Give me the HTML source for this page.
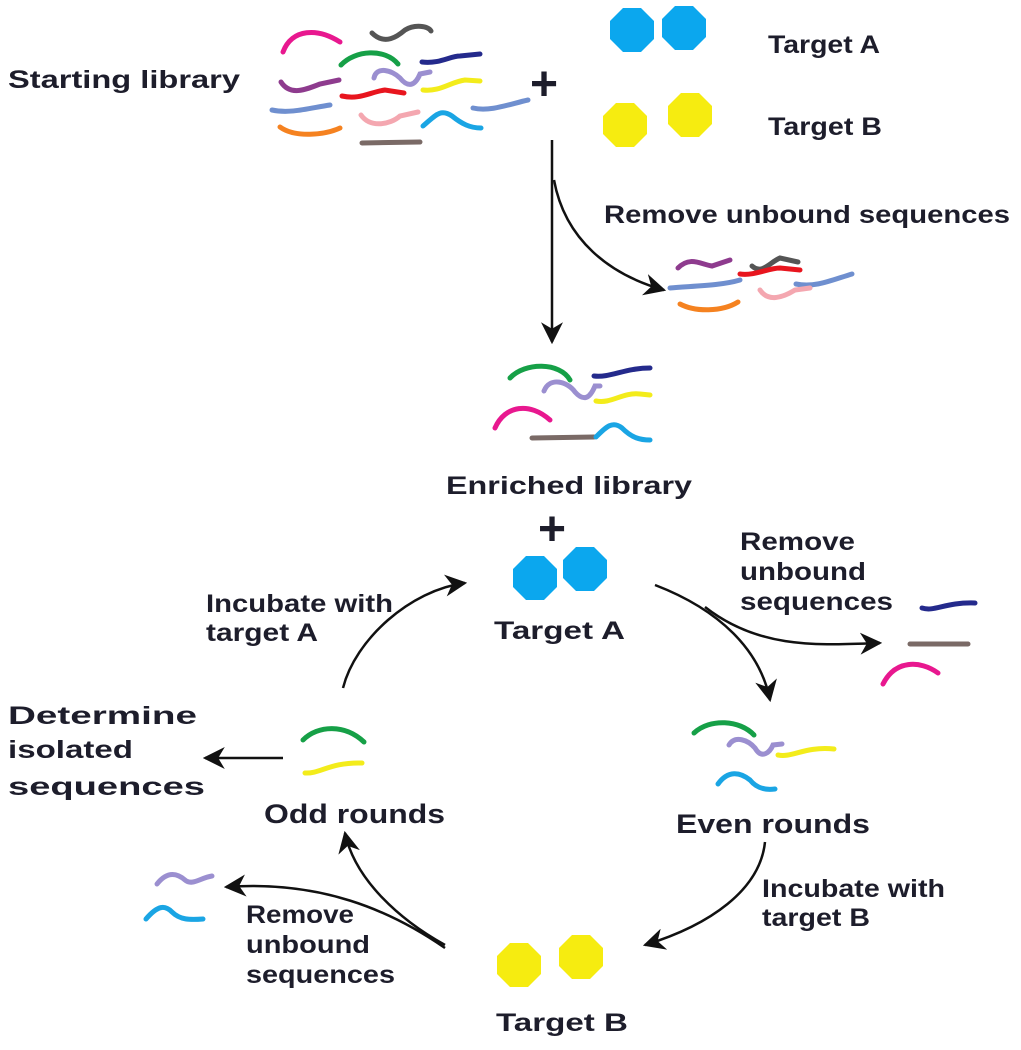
<!DOCTYPE html>
<html><head><meta charset="utf-8"><style>
html,body{margin:0;padding:0;background:#fff;}
svg{display:block}
text{font-family:"Liberation Sans",Arial,sans-serif;font-weight:bold;font-size:25px;fill:#1d1d2b}
.s{fill:none;stroke-width:5;stroke-linecap:round}
.a{fill:none;stroke:#111;stroke-width:2.5}
</style></head><body>
<svg width="1021" height="1050" viewBox="0 0 1021 1050" xmlns="http://www.w3.org/2000/svg">
<defs>
<marker id="ab" viewBox="0 0 10 10" refX="9" refY="5" markerWidth="22" markerHeight="22" orient="auto" markerUnits="userSpaceOnUse">
<path d="M0,0 L10,5 L0,10 L3,5z" fill="#111"/></marker>
<polygon id="oct" points="-9,-22 9,-22 22,-9 22,9 9,22 -9,22 -22,9 -22,-9"/>
</defs>

<text x="8" y="88" textLength="232" lengthAdjust="spacingAndGlyphs">Starting library</text>
<path class="s" stroke="#e8188f" d="M283,52 C292,28 318,28 340,42"/>
<path class="s" stroke="#555" d="M372,33 C385,46 398,36 405,30 C415,24 428,26 431,31"/>
<path class="s" stroke="#16a047" d="M341,65 C355,50 385,48 398,64"/>
<path class="s" stroke="#242a8c" d="M422,62 C440,64 450,56 460,56 L480,54"/>
<path class="s" stroke="#9b8fd0" d="M374,78 C376,66 392,70 400,78 C408,88 415,86 420,74 L430,72"/>
<path class="s" stroke="#8e3b8e" d="M281,82 C290,96 305,90 320,84 L339,80"/>
<path class="s" stroke="#f3ec1b" d="M423,90 C440,92 450,82 465,80 L480,81"/>
<path class="s" stroke="#e8151e" d="M342,96 C360,100 370,92 385,90 L404,93"/>
<path class="s" stroke="#6f8fcf" d="M272,110 C290,114 310,108 330,105"/>
<path class="s" stroke="#6f8fcf" d="M473,108 C490,112 510,104 528,100"/>
<path class="s" stroke="#f4a7b0" d="M361,115 C370,128 390,125 400,116 L418,112"/>
<path class="s" stroke="#1aa5e4" d="M423,126 C435,116 440,108 452,116 C462,124 470,128 481,128"/>
<path class="s" stroke="#f58220" d="M280,127 C295,138 325,135 340,128"/>
<path class="s" stroke="#7a6a66" d="M362,143 L420,142"/>

<text x="530" y="100" style="font-size:48px;font-weight:bold">+</text>

<use href="#oct" x="632" y="30" fill="#0ba7ee"/>
<use href="#oct" x="684" y="28" fill="#0ba7ee"/>
<use href="#oct" x="625" y="125" fill="#f6ec10"/>
<use href="#oct" x="690" y="115" fill="#f6ec10"/>
<text x="768" y="53" textLength="112" lengthAdjust="spacingAndGlyphs">Target A</text>
<text x="768" y="135" textLength="114" lengthAdjust="spacingAndGlyphs">Target B</text>

<line class="a" x1="552" y1="140" x2="552" y2="342" marker-end="url(#ab)"/>
<path class="a" d="M554,180 C565,240 610,275 664,290" marker-end="url(#ab)"/>
<text x="604" y="223" textLength="406" lengthAdjust="spacingAndGlyphs">Remove unbound sequences</text>
<path class="s" stroke="#8e3b8e" d="M678,268 C690,256 700,264 712,266 L730,260"/>
<path class="s" stroke="#555" d="M752,266 C762,275 770,262 780,258 L798,262"/>
<path class="s" stroke="#e8151e" d="M740,274 C755,276 768,268 780,268 L800,270"/>
<path class="s" stroke="#6f8fcf" d="M670,288 C690,286 720,286 740,280"/>
<path class="s" stroke="#6f8fcf" d="M796,284 C815,288 832,280 852,274"/>
<path class="s" stroke="#f4a7b0" d="M760,290 C768,302 782,298 795,290 L810,288"/>
<path class="s" stroke="#f58220" d="M680,304 C695,312 722,312 738,302"/>

<path class="s" stroke="#16a047" d="M510,378 C525,362 560,362 570,380"/>
<path class="s" stroke="#242a8c" d="M594,376 C610,378 625,368 650,368"/>
<path class="s" stroke="#9b8fd0" d="M544,391 C550,376 568,382 575,392 C584,402 590,398 595,386 L600,386"/>
<path class="s" stroke="#f3ec1b" d="M596,401 C612,404 622,392 640,394 L650,395"/>
<path class="s" stroke="#e8188f" d="M495,428 C505,405 530,402 550,420"/>
<path class="s" stroke="#7a6a66" d="M532,438 L594,437"/>
<path class="s" stroke="#1aa5e4" d="M596,437 C605,428 612,420 622,428 C632,438 640,440 650,440"/>
<text x="446" y="494" textLength="246" lengthAdjust="spacingAndGlyphs">Enriched library</text>
<text x="538" y="545" style="font-size:48px;font-weight:bold">+</text>

<use href="#oct" x="535" y="578" fill="#0ba7ee"/>
<use href="#oct" x="585" y="569" fill="#0ba7ee"/>
<text x="494" y="639" textLength="131" lengthAdjust="spacingAndGlyphs">Target A</text>

<path class="a" d="M343,688 C355,640 410,590 465,583" marker-end="url(#ab)"/>
<text x="206" y="612" textLength="187" lengthAdjust="spacingAndGlyphs">Incubate with</text>
<text x="206" y="641" textLength="112" lengthAdjust="spacingAndGlyphs">target A</text>

<path class="a" d="M655,585 C720,610 760,650 770,700" marker-end="url(#ab)"/>
<path class="a" d="M705,607 C760,650 820,645 880,643" marker-end="url(#ab)"/>
<text x="740" y="550" textLength="115" lengthAdjust="spacingAndGlyphs">Remove</text>
<text x="740" y="580" textLength="126" lengthAdjust="spacingAndGlyphs">unbound</text>
<text x="740" y="610" textLength="153" lengthAdjust="spacingAndGlyphs">sequences</text>
<path class="s" stroke="#242a8c" d="M922,608 C935,612 945,602 975,603"/>
<path class="s" stroke="#7a6a66" d="M910,644 L968,644"/>
<path class="s" stroke="#e8188f" d="M883,684 C895,660 920,660 938,673"/>

<path class="s" stroke="#16a047" d="M694,733 C710,718 740,720 754,735"/>
<path class="s" stroke="#9b8fd0" d="M729,745 C735,735 748,740 755,748 C762,760 770,752 773,745 L782,744"/>
<path class="s" stroke="#f3ec1b" d="M778,755 C792,758 805,746 834,749"/>
<path class="s" stroke="#1aa5e4" d="M718,784 C728,770 740,772 750,780 C758,790 768,790 775,789"/>
<text x="676" y="833" style="font-size:27px" textLength="194" lengthAdjust="spacingAndGlyphs">Even rounds</text>

<path class="a" d="M765,842 C760,890 710,925 645,945" marker-end="url(#ab)"/>
<text x="762" y="897" textLength="183" lengthAdjust="spacingAndGlyphs">Incubate with</text>
<text x="762" y="926" textLength="108" lengthAdjust="spacingAndGlyphs">target B</text>

<use href="#oct" x="519" y="965" fill="#f6ec10"/>
<use href="#oct" x="581" y="957" fill="#f6ec10"/>
<text x="496" y="1031" textLength="132" lengthAdjust="spacingAndGlyphs">Target B</text>

<path class="a" d="M445,945 C400,920 355,880 345,833" marker-end="url(#ab)"/>
<path class="a" d="M445,948 C390,910 320,880 226,887" marker-end="url(#ab)"/>
<text x="246" y="923" textLength="108" lengthAdjust="spacingAndGlyphs">Remove</text>
<text x="246" y="953" textLength="124" lengthAdjust="spacingAndGlyphs">unbound</text>
<text x="246" y="983" textLength="149" lengthAdjust="spacingAndGlyphs">sequences</text>
<path class="s" stroke="#9b8fd0" d="M157,884 C168,870 178,874 185,880 C192,886 200,878 212,876"/>
<path class="s" stroke="#1aa5e4" d="M146,919 C158,905 165,905 172,912 C180,920 190,920 203,919"/>

<path class="s" stroke="#16a047" d="M303,740 C318,725 345,724 364,742"/>
<path class="s" stroke="#f3ec1b" d="M305,773 C320,774 330,762 362,763"/>
<text x="264" y="823" style="font-size:27px" textLength="181" lengthAdjust="spacingAndGlyphs">Odd rounds</text>
<line class="a" x1="283" y1="758" x2="205" y2="758" marker-end="url(#ab)"/>
<text x="8" y="724" textLength="189" lengthAdjust="spacingAndGlyphs">Determine</text>
<text x="8" y="758" textLength="125" lengthAdjust="spacingAndGlyphs">isolated</text>
<text x="8" y="795" textLength="197" lengthAdjust="spacingAndGlyphs">sequences</text>
</svg>
</body></html>
